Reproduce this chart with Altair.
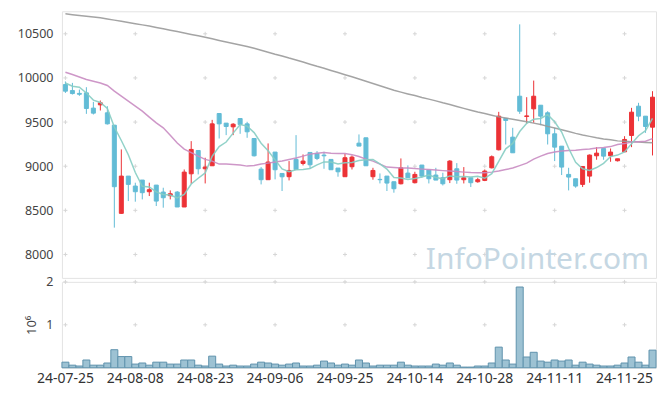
import altair as alt
import pandas as pd

dates = [
    "24-07-25", "24-07-26", "24-07-29", "24-07-30", "24-07-31",
    "24-08-01", "24-08-02", "24-08-05", "24-08-06", "24-08-07", "24-08-08", "24-08-09",
    "24-08-12", "24-08-13", "24-08-14", "24-08-16", "24-08-19", "24-08-20", "24-08-21",
    "24-08-22", "24-08-23", "24-08-26", "24-08-27", "24-08-28", "24-08-29", "24-08-30",
    "24-09-02", "24-09-03", "24-09-04", "24-09-05", "24-09-06", "24-09-09", "24-09-10",
    "24-09-11", "24-09-12", "24-09-13", "24-09-19", "24-09-20", "24-09-23", "24-09-24",
    "24-09-25", "24-09-26", "24-09-27", "24-09-30",
    "24-10-02", "24-10-04", "24-10-07", "24-10-08", "24-10-10", "24-10-11", "24-10-14",
    "24-10-15", "24-10-16", "24-10-17", "24-10-18", "24-10-21", "24-10-22", "24-10-23",
    "24-10-24", "24-10-25", "24-10-28", "24-10-29", "24-10-30", "24-10-31",
    "24-11-01", "24-11-04", "24-11-05", "24-11-06", "24-11-07", "24-11-08", "24-11-11",
    "24-11-12", "24-11-13", "24-11-14", "24-11-15", "24-11-18", "24-11-19", "24-11-20",
    "24-11-21", "24-11-22", "24-11-25", "24-11-26", "24-11-27", "24-11-28", "24-11-29",
]

opens = [9925, 9857, 9825, 9831, 9658, 9695, 9605, 9465, 8466, 8888,
         8775, 8843, 8711, 8786, 8707, 8666, 8707, 8538, 8914, 9178,
         8971, 9005, 9597, 9488, 9446, 9540, 9480, 9314, 8967, 8847,
         9160, 8918, 8881, 9077, 9031, 9156, 9145, 9126, 9077, 8979,
         8881, 8994, 9261, 9322, 8881, 8851, 8888, 8824, 8801, 8922,
         8813, 9013, 8956, 8900, 8869, 8847, 8971, 8847, 8869, 8824,
         8839, 8982, 9186, 9541, 9329, 9793, 9563, 9650, 9691, 9605,
         9367, 9227, 8907, 8858, 8794, 8888, 9118, 9201, 9118, 9062,
         9163, 9348, 9680, 9567, 9442]

highs = [9960, 9944, 9868, 9895, 9729, 9744, 9680, 9465, 9190, 8888,
         8813, 8843, 8813, 8786, 8756, 8726, 8718, 8963, 9284, 9178,
         9096, 9525, 9597, 9488, 9488, 9540, 9503, 9314, 8990, 9258,
         9160, 8918, 9058, 9352, 9133, 9156, 9171, 9164, 9077, 8979,
         9141, 9122, 9360, 9322, 8982, 8918, 8888, 8824, 9088, 9009,
         8937, 9013, 8956, 8982, 8926, 9069, 9035, 8990, 8869, 8869,
         8963, 9122, 9616, 9541, 9435, 10607, 9782, 9970, 9691, 9623,
         9435, 9227, 8982, 8858, 8997, 9133, 9216, 9201, 9201, 9084,
         9340, 9661, 9718, 9567, 9850]

lows = [9830, 9812, 9797, 9593, 9586, 9631, 9472, 8304, 8460, 8605,
        8598, 8624, 8662, 8549, 8530, 8624, 8538, 8538, 8801, 8907,
        8805, 9005, 9314, 9352, 9352, 9367, 9322, 9110, 8794, 8847,
        8851, 8719, 8839, 8963, 9009, 8971, 9069, 8971, 8958, 8881,
        8881, 8963, 9228, 9005, 8847, 8805, 8719, 8700, 8794, 8869,
        8805, 8869, 8805, 8843, 8782, 8809, 8801, 8805, 8764, 8813,
        8831, 8975, 9179, 9246, 9152, 9593, 9482, 9492, 9465, 9246,
        9058, 8900, 8726, 8756, 8764, 8813, 9073, 9073, 9050, 9054,
        9163, 9216, 9510, 9378, 9122]

closes = [9850, 9823, 9815, 9654, 9601, 9718, 9480, 8768, 8888, 8794,
          8711, 8700, 8734, 8605, 8643, 8688, 8538, 8933, 9190, 8971,
          8990, 9480, 9480, 9450, 9476, 9473, 9390, 9118, 8847, 9047,
          8960, 8880, 8952, 8963, 9058, 9016, 9088, 9118, 8960, 8937,
          9096, 9103, 9228, 9005, 8952, 8847, 8809, 8745, 8982, 8869,
          8907, 8888, 8858, 8843, 8801, 9058, 8843, 8869, 8813, 8847,
          8945, 9107, 9567, 9518, 9152, 9623, 9570, 9793, 9567, 9367,
          9216, 8990, 8877, 8775, 8997, 9126, 9148, 9114, 9160, 9084,
          9303, 9612, 9567, 9450, 9782]

volumes = [130000, 60000, 40000, 180000, 60000, 60000, 110000, 420000, 260000, 260000,
           85000, 110000, 60000, 130000, 130000, 85000, 85000, 180000, 180000, 60000,
           40000, 270000, 85000, 40000, 60000, 40000, 40000, 85000, 130000, 110000,
           85000, 60000, 85000, 110000, 40000, 40000, 60000, 155000, 110000, 60000,
           85000, 60000, 180000, 110000, 40000, 60000, 60000, 60000, 130000, 60000,
           40000, 40000, 40000, 85000, 60000, 110000, 60000, 15000, 15000, 40000,
           40000, 110000, 480000, 180000, 85000, 1880000, 250000, 360000, 155000, 130000,
           180000, 155000, 180000, 60000, 130000, 85000, 60000, 40000, 40000, 60000,
           110000, 250000, 130000, 60000, 410000]

ma5 = [9943, 9906, 9895, 9830, 9749, 9722, 9654, 9444, 9291, 9130,
       8928, 8772, 8765, 8709, 8679, 8674, 8642, 8681, 8798, 8864,
       8924, 9113, 9222, 9274, 9375, 9472, 9454, 9381, 9261, 9175,
       9072, 8970, 8937, 8960, 8963, 8974, 9015, 9049, 9048, 9024,
       9040, 9043, 9065, 9074, 9077, 9027, 8968, 8872, 8867, 8850,
       8862, 8878, 8901, 8873, 8859, 8890, 8881, 8883, 8877, 8886,
       8863, 8916, 9056, 9197, 9258, 9393, 9486, 9531, 9541, 9584,
       9503, 9387, 9203, 9045, 8971, 8953, 8985, 9032, 9109, 9126,
       9162, 9255, 9345, 9403, 9543]

ma20 = [10064, 10038, 10011, 9982, 9963, 9943, 9914, 9850, 9793, 9737,
        9680, 9623, 9556, 9491, 9435, 9352, 9262, 9194, 9154, 9114,
        9077, 9058, 9024, 9024, 9018, 9013, 9001, 9007, 9024, 9035,
        9047, 9058, 9075, 9092, 9114, 9137, 9148, 9154, 9148, 9145,
        9143, 9131, 9109, 9080, 9058, 9024, 8990, 8984, 8979, 8979,
        8973, 8967, 8962, 8956, 8950, 8945, 8939, 8933, 8928, 8926,
        8926, 8933, 8945, 8962, 8979, 9007, 9035, 9080, 9114, 9143,
        9160, 9171, 9179, 9182, 9188, 9194, 9205, 9211, 9222, 9245,
        9256, 9273, 9278, 9284, 9312]

ma_long = [10726, 10717, 10708, 10699, 10690, 10681, 10668, 10655, 10641, 10628,
           10614, 10601, 10588, 10572, 10557, 10541, 10525, 10509, 10493, 10477,
           10460, 10443, 10425, 10408, 10390, 10373, 10356, 10336, 10314, 10292,
           10269, 10248, 10225, 10204, 10180, 10156, 10132, 10110, 10085, 10061,
           10037, 10014, 9988, 9963, 9937, 9911, 9885, 9860, 9839, 9819,
           9800, 9779, 9760, 9740, 9718, 9698, 9677, 9655, 9634, 9614,
           9596, 9578, 9559, 9545, 9532, 9519, 9504, 9488, 9472, 9451,
           9432, 9412, 9393, 9372, 9354, 9338, 9322, 9309, 9299, 9287,
           9282, 9277, 9273, 9269, 9265]

tick_dates = ["24-07-25", "24-08-08", "24-08-23", "24-09-06", "24-09-25",
              "24-10-14", "24-10-28", "24-11-11", "24-11-25"]
price_ticks = [8000, 8500, 9000, 9500, 10000, 10500]
volume_ticks = [1000000, 2000000]
watermark = "InfoPointer.com"

UP = "#ec3236"
DOWN = "#62bcd6"
FONT = "Noto Sans"

df = pd.DataFrame({
    "date": dates, "open": opens, "high": highs, "low": lows, "close": closes,
    "volume": volumes, "ma5": ma5, "ma20": ma20, "ma_long": ma_long,
})

xscale = alt.Scale(domain=dates, paddingInner=0, paddingOuter=0)
x_plain = alt.X("date:O", scale=xscale, axis=None)
yprice = alt.Scale(domain=[7735, 10755], nice=False, zero=False)
color_cond = alt.condition("datum.close >= datum.open", alt.value(UP), alt.value(DOWN))

price_axis = alt.Axis(values=price_ticks, format="d", grid=False, ticks=False, domain=False,
                      labelPadding=9, labelFontSize=12.5, labelColor="#444", labelFont=FONT,
                      minExtent=53, maxExtent=53, title=None)

cross = "M-1,0L1,0M0,-1L0,1"

grid_price = pd.DataFrame([(d, v) for d in tick_dates for v in price_ticks], columns=["date", "v"])
grid_vol = pd.DataFrame([(d, v) for d in tick_dates for v in volume_ticks], columns=["date", "v"])

base = alt.Chart(df)

p_grid = alt.Chart(grid_price).mark_point(shape=cross, size=16, filled=False, stroke="#d6d6d6",
                                          strokeWidth=1, opacity=1).encode(
    x=x_plain, y=alt.Y("v:Q", scale=yprice, axis=price_axis))

wick = base.mark_rule(strokeWidth=1).encode(
    x=x_plain, y=alt.Y("low:Q", scale=yprice), y2="high:Q", color=color_cond)

body = base.mark_bar(size=4, strokeWidth=1).encode(
    x=x_plain, y=alt.Y("open:Q", scale=yprice), y2="close:Q", fill=color_cond, stroke=color_cond)

line_long = base.mark_line(color="#9a9a9a", strokeWidth=1.5, opacity=0.9).encode(
    x=x_plain, y=alt.Y("ma_long:Q", scale=yprice))
line20 = base.mark_line(color="#c98cc2", strokeWidth=1.5, opacity=0.9).encode(
    x=x_plain, y=alt.Y("ma20:Q", scale=yprice))
line5 = base.mark_line(color="#86cdc3", strokeWidth=1.5, opacity=0.9).encode(
    x=x_plain, y=alt.Y("ma5:Q", scale=yprice))

wm = alt.Chart(pd.DataFrame({"t": [watermark]})).mark_text(
    align="right", baseline="alphabetic", fontSize=30, font=FONT, color="#c5d7e3").encode(
    x=alt.value(588), y=alt.value(258), text="t:N")

price = alt.layer(p_grid, wm, wick, body, line_long, line20, line5).properties(width=595, height=267)

vol_axis = alt.Axis(values=volume_ticks, labelExpr="datum.value / 1000000", grid=False, ticks=False,
                    domain=False, labelPadding=9, labelFontSize=12.5, labelColor="#444", labelFont=FONT,
                    title="10\u2076", titleFontSize=13, titleFontWeight="normal", titleColor="#444",
                    titleFont=FONT, titleX=-30, titleY=43, titleAngle=270, titleAlign="center",
                    titleBaseline="middle", minExtent=20, maxExtent=20)
yvol = alt.Scale(domain=[0, 2000000], nice=False)

x_axis = alt.X("date:O", scale=xscale,
               axis=alt.Axis(values=tick_dates, labelAngle=0, ticks=False, domain=False, grid=False,
                             labelPadding=4, labelFontSize=14, labelColor="#333", labelFont=FONT,
                             labelOverlap=False, title=None))

v_grid = alt.Chart(grid_vol).mark_point(shape=cross, size=16, filled=False, stroke="#d6d6d6",
                                        strokeWidth=1, opacity=1).encode(
    x=x_axis, y=alt.Y("v:Q", scale=yvol, axis=vol_axis))

vbars = base.mark_bar(fill="#9dc2d3", stroke="#5f93ad", strokeWidth=1).encode(
    x=x_axis, y=alt.Y("volume:Q", scale=yvol))

volume = alt.layer(v_grid, vbars).properties(width=595, height=86)

chart = alt.vconcat(price, volume, spacing=4, bounds="flush").properties(
    padding={"left": 0, "top": 2, "right": 0, "bottom": 0},
    background="white",
).configure_view(stroke="#e3e3e3")

chart.save("out.html", embed_options={"renderer": "svg", "actions": False})
